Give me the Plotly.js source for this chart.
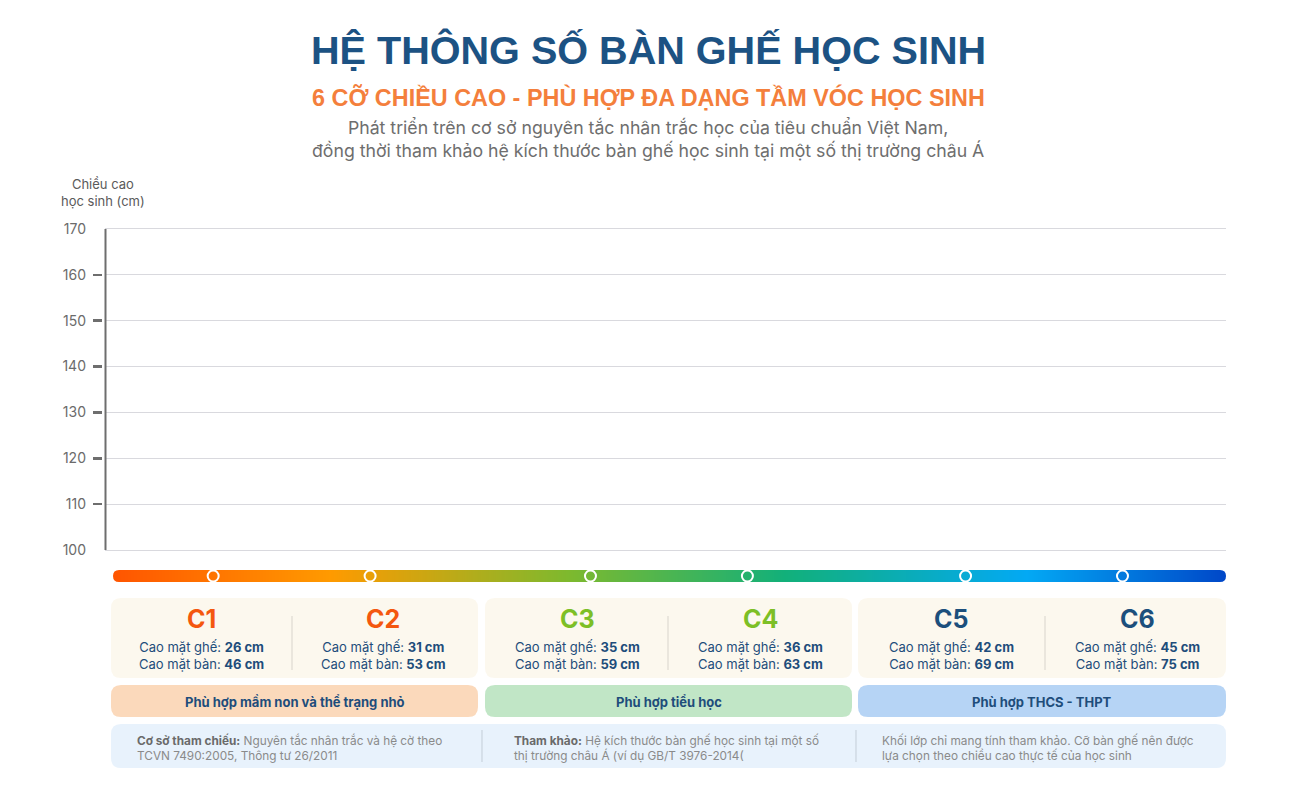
<!DOCTYPE html>
<html>
<head>
<meta charset="utf-8">
<script src="https://cdn.plot.ly/plotly-3.0.1.min.js"></script>
<style>
  html, body { margin: 0; padding: 0; background: #ffffff; }
  #chart { width: 1300px; height: 800px; }
</style>
</head>
<body>
<div id="chart"></div>
<script>
"use strict";

// chart values
var sizeNames = ['C1', 'C2', 'C3', 'C4', 'C5', 'C6'];
var seatHeights = [26, 31, 35, 36, 42, 45];
var deskHeights = [46, 53, 59, 63, 69, 75];
var sizeColors = ['#f4570f', '#f4570f', '#7dbf26', '#7dbf26', '#1c4f7c', '#1c4f7c'];
var groupLabels = ['Phù hợp mầm non và thể trạng nhỏ', 'Phù hợp tiểu học', 'Phù hợp THCS - THPT'];
var groupColors = ['#fbd9bb', '#c1e6c6', '#b6d4f5'];
var noteBold = ['Cơ sở tham chiếu:', 'Tham khảo:', ''];
var noteText = [
    'Nguyên tắc nhân trắc và hệ cờ theo<br>TCVN 7490:2005, Thông tư 26/2011',
    'Hệ kích thước bàn ghế học sinh tại một số<br>thị trường châu Á (ví dụ GB/T 3976-2014(',
    'Khối lớp chỉ mang tính tham khảo. Cỡ bàn ghế nên được<br>lựa chọn theo chiều cao thực tế của học sinh'
];
var yTicks = [100, 110, 120, 130, 140, 150, 160, 170];
var yTickMarks = [110, 120, 130, 140, 150, 160];
// marker positions along the colour bar (0 - 100)
var markerPos = [9, 23.1, 42.9, 57, 76.6, 90.7];
// colour bar stops (position 0 - 100, colour)
var gradPos = [0, 19.5, 41, 60.4, 82, 100];
var gradColors = ['#ff5500', '#ff9a00', '#7db92e', '#12b07a', '#03a9f4', '#0047c8'];

var W = 1300, H = 800;
var FONT = 'Inter, "Noto Sans", sans-serif';
var TITLE_FONT = '"Liberation Sans", Arial, sans-serif';

// layout boxes (pixels)
var cardX = [[111, 478], [485, 852], [858, 1226]];
var cardCenters = [201, 383, 577, 760, 951, 1137];
var dividerX = [292, 668, 1045];
var noteX = [135, 512, 880];
var noteDividerX = [482, 856];

function px(x) { return x / W; }
function py(y) { return 1 - y / H; }

function roundRect(x0, y0, x1, y1, r) {
    return 'M' + (x0 + r) + ',' + y0 +
        ' L' + (x1 - r) + ',' + y0 + ' Q' + x1 + ',' + y0 + ' ' + x1 + ',' + (y0 + r) +
        ' L' + x1 + ',' + (y1 - r) + ' Q' + x1 + ',' + y1 + ' ' + (x1 - r) + ',' + y1 +
        ' L' + (x0 + r) + ',' + y1 + ' Q' + x0 + ',' + y1 + ' ' + x0 + ',' + (y1 - r) +
        ' L' + x0 + ',' + (y0 + r) + ' Q' + x0 + ',' + y0 + ' ' + (x0 + r) + ',' + y0 + ' Z';
}

function pathShape(path, fill, layer) {
    return {
        type: 'path', xref: 'x3', yref: 'y3', path: path,
        fillcolor: fill, line: { width: 0 }, layer: layer || 'below'
    };
}

function lineShape(x0, y0, x1, y1, color) {
    return {
        type: 'line', xref: 'x3', yref: 'y3', x0: x0, y0: y0, x1: x1, y1: y1,
        line: { color: color, width: 1.2 }, layer: 'above'
    };
}

function text(x, y, t, size, color, opts) {
    var a = {
        xref: 'x3', yref: 'y3', x: x, y: y, text: t, showarrow: false,
        font: { family: FONT, size: size, color: color },
        xanchor: 'center', yanchor: 'middle', align: 'center'
    };
    if (opts) {
        Object.keys(opts).forEach(function (k) { a[k] = opts[k]; });
    }
    return a;
}

var traces = [];

// empty traces so the main plot area exists
traces.push({ x: [], y: [], type: 'scatter', xaxis: 'x', yaxis: 'y', hoverinfo: 'skip', showlegend: false });
traces.push({ x: [], y: [], type: 'scatter', xaxis: 'x', yaxis: 'y4', hoverinfo: 'skip', showlegend: false });

// colour bar
var colorscale = gradPos.map(function (p, i) { return [p / 100, gradColors[i]]; });
traces.push({
    type: 'heatmap', xaxis: 'x2', yaxis: 'y2',
    x: gradPos, y: [0], z: [gradPos],
    zmin: 0, zmax: 100, zsmooth: 'best',
    colorscale: colorscale, showscale: false, hoverinfo: 'skip'
});

traces.push({
    type: 'scatter', mode: 'markers', xaxis: 'x2', yaxis: 'y2',
    x: markerPos, y: markerPos.map(function () { return 0; }),
    marker: { size: 11, color: 'rgba(0,0,0,0)', line: { color: '#ffffff', width: 2 } },
    hoverinfo: 'skip', showlegend: false
});

// canvas trace
traces.push({ x: [0], y: [0], type: 'scatter', mode: 'none', xaxis: 'x3', yaxis: 'y3', hoverinfo: 'skip', showlegend: false });

var shapes = [];
var annotations = [];

// cards
cardX.forEach(function (c, i) {
    shapes.push(pathShape(roundRect(c[0], 598, c[1], 678, 10), '#fcf8ee'));
    shapes.push(pathShape(roundRect(c[0], 685, c[1], 717, 10), groupColors[i]));
    shapes.push(lineShape(dividerX[i], 616, dividerX[i], 670, '#dedbd2'));
    annotations.push(text((c[0] + c[1]) / 2, 701.5, '<b>' + groupLabels[i] + '</b>', 13, '#1e4d7b'));
});
shapes.push(pathShape(roundRect(111, 724, 1226, 768, 10), '#e8f2fc'));
noteDividerX.forEach(function (x) {
    shapes.push(lineShape(x, 730, x, 762, '#c9d3dd'));
});

// rounded ends of the colour bar (white corner masks)
var bl = 113, br = 1226, bt = 570, bb = 582, r = 6;
shapes.push(pathShape('M' + bl + ',' + bt + ' L' + (bl + r) + ',' + bt + ' Q' + bl + ',' + bt + ' ' + bl + ',' + (bt + r) +
    ' Q' + bl + ',' + bb + ' ' + (bl + r) + ',' + bb + ' L' + bl + ',' + bb + ' Z', '#ffffff', 'above'));
shapes.push(pathShape('M' + br + ',' + bt + ' L' + (br - r) + ',' + bt + ' Q' + br + ',' + bt + ' ' + br + ',' + (bt + r) +
    ' Q' + br + ',' + bb + ' ' + (br - r) + ',' + bb + ' L' + br + ',' + bb + ' Z', '#ffffff', 'above'));

sizeNames.forEach(function (name, i) {
    annotations.push(text(cardCenters[i], 619, '<b>' + name + '</b>', 25, sizeColors[i]));
    annotations.push(text(cardCenters[i], 655,
        'Cao mặt ghế: <b>' + seatHeights[i] + ' cm</b><br>Cao mặt bàn: <b>' + deskHeights[i] + ' cm</b>',
        13, '#1e4d7b'));
});

noteText.forEach(function (t, i) {
    var s = noteBold[i] ? '<b><span style="color:#6a6a6a">' + noteBold[i] + '</span></b> ' + t : t;
    annotations.push(text(noteX[i], 747.5, s, 11.8, '#8a8a8a', { xanchor: 'left', align: 'left' }));
});

// titles
annotations.push(text(648, 50, '<b>HỆ THÔNG SỐ BÀN GHẾ HỌC SINH</b>', 39.6, '#1c5283',
    { font: { family: TITLE_FONT, size: 39.6, color: '#1c5283' } }));
annotations.push(text(648, 97, '<b>6 CỠ CHIỀU CAO - PHÙ HỢP ĐA DẠNG TẦM VÓC HỌC SINH</b>', 23.4, '#f47f3c',
    { font: { family: TITLE_FONT, size: 23.4, color: '#f47f3c' } }));
annotations.push(text(648, 139,
    'Phát triển trên cơ sở nguyên tắc nhân trắc học của tiêu chuẩn Việt Nam,<br>đồng thời tham khảo hệ kích thước bàn ghế học sinh tại một số thị trường châu Á',
    17.7, '#6e6e6e'));
annotations.push(text(103, 192, 'Chiều cao<br>học sinh (cm)', 13, '#5a5a5a'));

var layout = {
    width: W, height: H,
    margin: { l: 0, r: 0, t: 0, b: 0 },
    paper_bgcolor: '#ffffff', plot_bgcolor: 'rgba(0,0,0,0)',
    showlegend: false,
    font: { family: FONT },
    xaxis: {
        domain: [px(105), px(1226)], range: [0, 1], visible: false, fixedrange: true
    },
    // range padded by half a unit so the grid lines at 100 and 170 are kept
    yaxis: {
        domain: [py(552.3), py(226.7)], range: [99.5, 170.5], anchor: 'x',
        tickmode: 'array', tickvals: yTicks, ticks: '',
        ticklabelstandoff: 18,
        tickfont: { family: FONT, size: 14, color: '#6b6b6b' },
        showgrid: true, gridcolor: '#d9d9de', gridwidth: 1,
        showline: false, zeroline: false, fixedrange: true
    },
    yaxis4: {
        overlaying: 'y', anchor: 'free', position: px(102), side: 'left',
        range: [99.5, 170.5], tickmode: 'array', tickvals: yTickMarks,
        ticks: 'outside', ticklen: 9, tickwidth: 2.5, tickcolor: '#6e6e6e',
        showticklabels: false, showgrid: false, showline: false, zeroline: false, fixedrange: true
    },
    xaxis2: {
        domain: [px(113), px(1226)], range: [0, 100], anchor: 'y2', visible: false, fixedrange: true
    },
    yaxis2: {
        domain: [py(582), py(570)], range: [-0.5, 0.5], anchor: 'x2', visible: false, fixedrange: true
    },
    xaxis3: { domain: [0, 1], range: [0, W], anchor: 'y3', visible: false, fixedrange: true },
    yaxis3: { domain: [0, 1], range: [H, 0], anchor: 'x3', visible: false, fixedrange: true },
    shapes: shapes.concat([{
        // y axis line from 100 to 170
        type: 'line', xref: 'paper', yref: 'y', x0: px(105.5), x1: px(105.5), y0: yTicks[0], y1: yTicks[yTicks.length - 1],
        line: { color: '#6e6e6e', width: 2 }, layer: 'above'
    }]),
    annotations: annotations
};

Plotly.newPlot('chart', traces, layout, { displayModeBar: false, staticPlot: true });
</script>
</body>
</html>
